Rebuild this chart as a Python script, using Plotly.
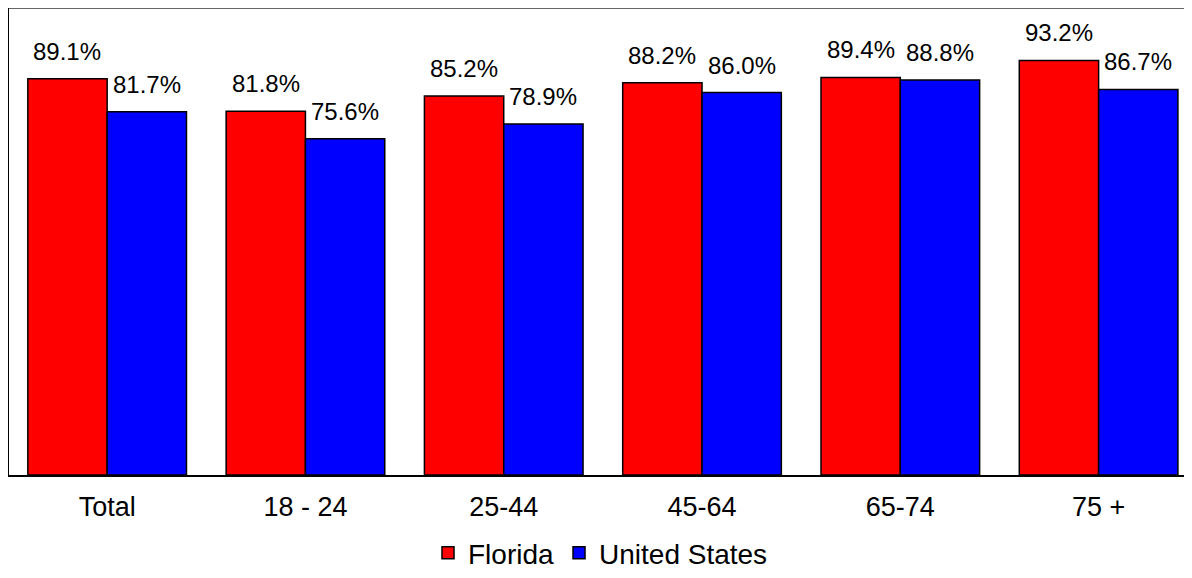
import plotly.graph_objects as go

categories = ["Total", "18 - 24", "25-44", "45-64", "65-74", "75 +"]
florida = [89.1, 81.8, 85.2, 88.2, 89.4, 93.2]
united_states = [81.7, 75.6, 78.9, 86.0, 88.8, 86.7]
series_names = ["Florida", "United States"]
series_colors = ["#ff0000", "#0000ff"]

# page body adds an 8px offset, so the figure is sized to fit the window
W, H = 1184, 570
ML, MR, MT, MB = 1, 0, 0, 103
X_RANGE = [-0.495, 5.471]
Y_RANGE = [0, 105]
BARGAP = 0.2
FONT = "Liberation Sans, Arial, sans-serif"

fig = go.Figure()
for name, vals, col in zip(series_names, [florida, united_states], series_colors):
    fig.add_trace(go.Bar(
        x=categories, y=vals, name=name,
        marker=dict(color=col, line=dict(color="black", width=1.5)),
    ))

# data labels above each bar
plot_w = W - ML - MR
cat_px = plot_w / (X_RANGE[1] - X_RANGE[0])
bar_px = cat_px * (1 - BARGAP) / 2
for i, vals in enumerate([florida, united_states]):
    shift = (-0.5 if i == 0 else 0.5) * bar_px
    for c, v in zip(categories, vals):
        fig.add_annotation(
            x=c, y=v, text=f"{v:.1f}%", showarrow=False,
            xref="x", yref="y", xshift=shift, yshift=12,
            yanchor="bottom", xanchor="center",
            font=dict(family=FONT, size=24, color="black"),
        )

fig.add_shape(type="line", xref="paper", yref="paper", x0=0, x1=1, y0=1, y1=1,
              line=dict(color="#333333", width=1.5))

fig.update_layout(
    width=W, height=H,
    margin=dict(l=ML, r=MR, t=MT, b=MB),
    paper_bgcolor="white", plot_bgcolor="white",
    barmode="group", bargap=BARGAP, bargroupgap=0,
    font=dict(family=FONT, size=27, color="black"),
    showlegend=True,
    legend=dict(orientation="h", x=0.5, xanchor="center",
                yref="container", y=-0.009, yanchor="bottom",
                font=dict(family=FONT, size=28, color="black"),
                itemwidth=30, traceorder="normal", bgcolor="rgba(0,0,0,0)"),
    xaxis=dict(range=X_RANGE, showline=True, linecolor="black", linewidth=2,
               ticks="", showgrid=False, tickfont=dict(size=27),
               ticklabelstandoff=7, fixedrange=True),
    yaxis=dict(range=Y_RANGE, showline=True, linecolor="black", linewidth=1.5,
               showticklabels=False, ticks="", showgrid=False, zeroline=False),
)

fig.write_html("out.html")
